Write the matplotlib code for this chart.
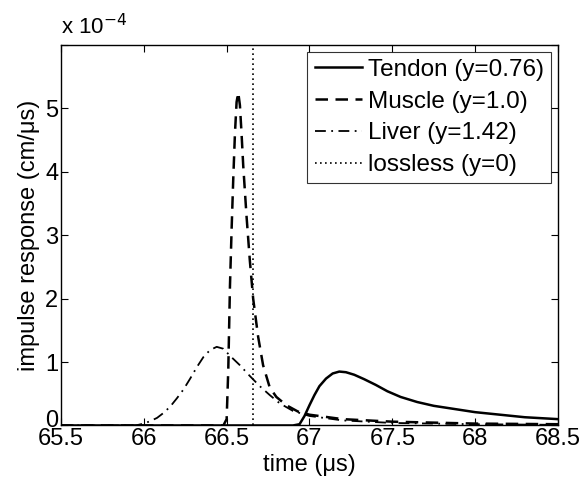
import matplotlib
matplotlib.use("Agg")
import matplotlib.pyplot as plt
from matplotlib.transforms import ScaledTranslation

plt.rcParams['font.family'] = ['Liberation Sans', 'DejaVu Sans']

# values in units of 1e-4 cm/us
tendon_t = [65.5, 66.9, 66.94, 66.97, 67.0, 67.03, 67.06, 67.1, 67.14, 67.18, 67.22, 67.27, 67.33, 67.4, 67.47, 67.55, 67.65, 67.75, 67.85, 68.0, 68.15, 68.3, 68.5]
tendon_y = [0.0, 0.0, 0.02, 0.15, 0.32, 0.48, 0.62, 0.74, 0.82, 0.85, 0.84, 0.80, 0.73, 0.64, 0.54, 0.45, 0.37, 0.31, 0.27, 0.21, 0.17, 0.13, 0.10]

muscle_t = [65.5, 66.48, 66.5, 66.51, 66.52, 66.53, 66.54, 66.55, 66.56, 66.57, 66.58, 66.59, 66.6, 66.62, 66.64, 66.66, 66.69, 66.72, 66.76, 66.8, 66.86, 66.93, 67.0, 67.2, 67.5, 68.0, 68.5]
muscle_y = [0.0, 0.0, 0.1, 0.9, 2.2, 3.1, 3.9, 4.6, 5.1, 5.25, 5.05, 4.6, 4.1, 3.3, 2.6, 2.0, 1.4, 0.95, 0.6, 0.45, 0.32, 0.22, 0.17, 0.1, 0.06, 0.03, 0.02]

liver_t = [65.5, 65.95, 66.0, 66.04, 66.08, 66.12, 66.16, 66.2, 66.24, 66.28, 66.32, 66.36, 66.4, 66.44, 66.48, 66.52, 66.58, 66.64, 66.7, 66.76, 66.82, 66.9, 67.0, 67.2, 67.5, 68.0, 68.5]
liver_y = [0.0, 0.0, 0.03, 0.07, 0.12, 0.2, 0.3, 0.43, 0.57, 0.74, 0.92, 1.08, 1.19, 1.24, 1.21, 1.1, 0.95, 0.78, 0.62, 0.48, 0.35, 0.23, 0.15, 0.08, 0.04, 0.02, 0.01]

lossless_t = [66.66, 66.66]
lossless_y = [0.0, 6.0]

labels = ['Tendon (y=0.76)', 'Muscle (y=1.0)', 'Liver (y=1.42)', 'lossless (y=0)']
xticks = [65.5, 66, 66.5, 67, 67.5, 68, 68.5]
xticklabels = ['65.5', '66', '66.5', '67', '67.5', '68', '68.5']
yticks = [0, 1, 2, 3, 4, 5, 6]
yticklabels = ['0', '1', '2', '3', '4', '5', '']

fig = plt.figure(figsize=(5.83, 4.84), dpi=100)
ax = fig.add_axes([0.1046, 0.1209, 0.8525, 0.7862])

ax.plot(tendon_t, tendon_y, color='black', lw=1.8, linestyle='-', label=labels[0])
ax.plot(muscle_t, muscle_y, color='black', lw=1.8, linestyle=(0, (5, 3)), label=labels[1])
ax.plot(liver_t, liver_y, color='black', lw=1.3, linestyle=(0, (6, 3, 1, 3)), label=labels[2])
ax.plot(lossless_t, lossless_y, color='black', lw=1.2, linestyle=(0, (1, 2)), label=labels[3])

ax.set_xlim(65.5, 68.5)
ax.set_ylim(0, 6)
ax.set_xticks(xticks)
ax.set_xticklabels(xticklabels)
ax.set_yticks(yticks)
ax.set_yticklabels(yticklabels)
ax.tick_params(direction='in', length=5, width=0.8, top=True, right=True, labelsize=17, pad=2)
for s in ax.spines.values():
    s.set_linewidth(1.0)

# MATLAB-style: the "0" label sits slightly above the axis line
zero_lbl = ax.get_yticklabels()[0]
zero_lbl.set_transform(zero_lbl.get_transform() + ScaledTranslation(0, 5 / 72, fig.dpi_scale_trans))

ax.set_xlabel('time (\u03bcs)', fontsize=17, labelpad=3)
ax.set_ylabel('impulse response (cm/\u03bcs)', fontsize=17, labelpad=4)
ax.text(0.0, 1.015, 'x 10$^{-4}$', transform=ax.transAxes, fontsize=16, ha='left', va='bottom')

leg = ax.legend(loc='upper right', fontsize=17.5, frameon=True, fancybox=False, edgecolor='black',
                handlelength=1.95, handletextpad=0.25, labelspacing=0.4, borderpad=0.3,
                borderaxespad=0.27)
leg.get_frame().set_linewidth(0.8)

fig.savefig('out.png', dpi=100)
